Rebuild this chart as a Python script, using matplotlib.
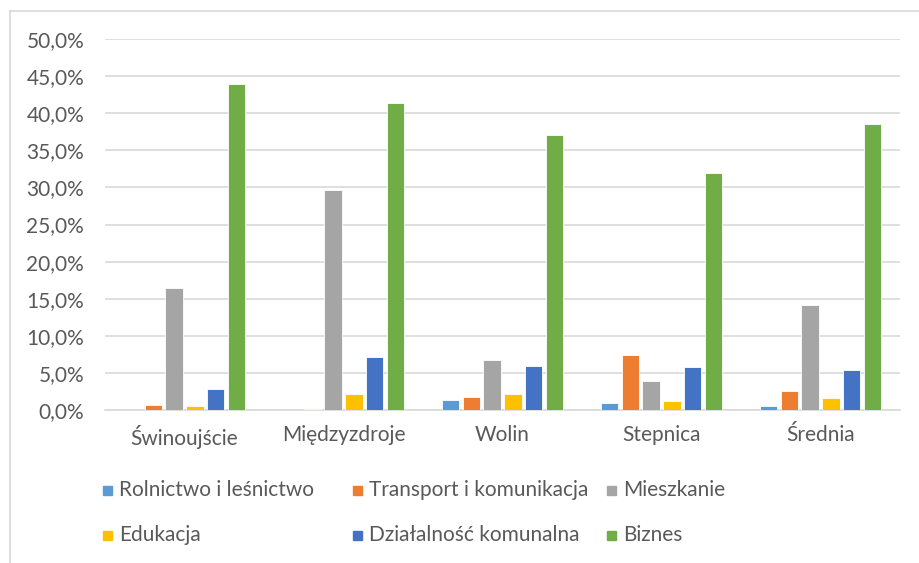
import numpy as np
import matplotlib
matplotlib.use('Agg')
import matplotlib.pyplot as plt
from matplotlib.lines import Line2D
from matplotlib.patches import Rectangle
from matplotlib.ticker import FuncFormatter

plt.rcParams['font.family'] = ['Lato', 'DejaVu Sans']

towns = ['Świnoujście', 'Międzyzdroje', 'Wolin', 'Stepnica', 'Średnia']
series_names = ['Rolnictwo i leśnictwo', 'Transport i komunikacja', 'Mieszkanie',
                'Edukacja', 'Działalność komunalna', 'Biznes']
rolnictwo = [0.0, 0.0, 1.3, 0.9, 0.5]
transport = [0.7, 0.2, 1.8, 7.4, 2.5]
mieszkanie = [16.5, 29.7, 6.7, 3.9, 14.1]
edukacja = [0.5, 2.2, 2.2, 1.2, 1.6]
komunalna = [2.8, 7.1, 5.9, 5.8, 5.4]
biznes = [43.9, 41.4, 37.0, 32.0, 38.6]
colors = ['#5b9bd5', '#ed7d31', '#a5a5a5', '#ffc000', '#4472c4', '#70ad47']

all_series = [rolnictwo, transport, mieszkanie, edukacja, komunalna, biznes]
W, H = 920, 563
text_col = '#595959'
fs = 15

fig = plt.figure(figsize=(W / 100, H / 100), dpi=100)
ax = fig.add_axes([105 / W, (H - 410) / H, 795 / W, 371 / H])

x = np.arange(len(towns))
step = 0.132
width = 0.107
for i, (vals, c) in enumerate(zip(all_series, colors)):
    ax.bar(x + (i - 2.5) * step, np.array(vals) / 100, width, color=c,
           edgecolor='white', linewidth=0.6, label=series_names[i], zorder=3)

ax.set_ylim(0, 0.5)
ax.set_xlim(-0.5, len(towns) - 0.5)
ax.set_yticks(np.arange(0, 0.501, 0.05))
ax.yaxis.set_major_formatter(FuncFormatter(lambda v, p: f'{v * 100:.1f}%'.replace('.', ',')))
ax.grid(axis='y', color='#d9d9d9', linewidth=1.2, zorder=0)
ax.set_xticks(x)
ax.set_xticklabels(towns)
ax.tick_params(axis='both', length=0, labelsize=fs, colors=text_col)
ax.tick_params(axis='x', pad=11)
ax.tick_params(axis='y', pad=15)
for s in ['top', 'right', 'left']:
    ax.spines[s].set_visible(False)
ax.spines['bottom'].set_color('#d9d9d9')
ax.spines['bottom'].set_linewidth(1.2)

# legend laid out like Excel: 3 fixed-width columns, 2 rows, filled row by row
col_x = [103, 353, 607]
row_y = [490, 535]
for i, (name, c) in enumerate(zip(series_names, colors)):
    px = col_x[i % 3]
    py = row_y[i // 3]
    fig.add_artist(Rectangle((px / W, 1 - (py + 4.5) / H), 9 / W, 9 / H,
                             transform=fig.transFigure, color=c))
    fig.text((px + 16) / W, 1 - py / H, name, fontsize=fs, color=text_col,
             va='center', ha='left')

# outer chart border (left and top visible)
fig.add_artist(Line2D([10 / W, 10 / W], [0, 1 - 11 / H], color='#d9d9d9', lw=1.2))
fig.add_artist(Line2D([10 / W, 1], [1 - 11 / H, 1 - 11 / H], color='#d9d9d9', lw=1.2))

fig.savefig('out.png', dpi=100)
